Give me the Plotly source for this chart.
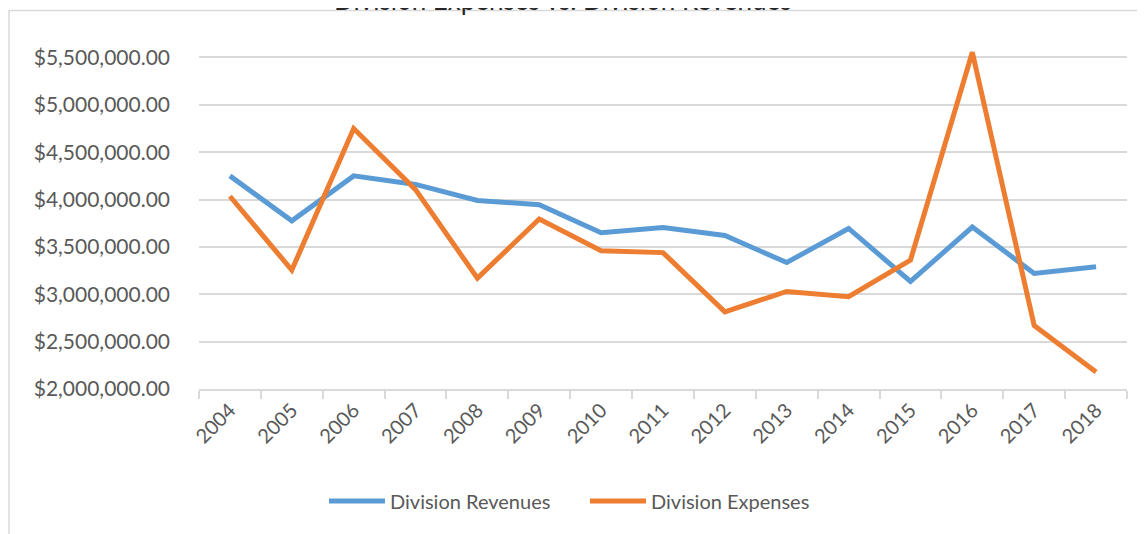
import plotly.graph_objects as go

years = [str(y) for y in range(2004, 2019)]
revenues = [4250000, 3775000, 4250000, 4160000, 3990000, 3945000, 3650000, 3705000,
            3620000, 3335000, 3695000, 3135000, 3710000, 3220000, 3290000]
expenses = [4035000, 3255000, 4750000, 4105000, 3170000, 3795000, 3460000, 3440000,
            2815000, 3030000, 2975000, 3360000, 5555000, 2670000, 2180000]
y_ticks = [2000000, 2500000, 3000000, 3500000, 4000000, 4500000, 5000000, 5500000]

# page body has an 8px margin, so figure coords = screenshot coords - 8
OFF = 8
W, H = 1145, 534
L, R, T, B = 199 - OFF, 26, 48 - OFF, 153
pw, ph = W - L - R, H - T - B

font_family = "Lato, 'Open Sans', sans-serif"
gray = "#595959"

fig = go.Figure()
fig.add_trace(go.Scatter(x=years, y=revenues, mode="lines", name="Division Revenues",
                         line=dict(color="#5B9BD5", width=5)))
fig.add_trace(go.Scatter(x=years, y=expenses, mode="lines", name="Division Expenses",
                         line=dict(color="#ED7D31", width=5)))

fig.update_layout(
    width=W, height=H,
    margin=dict(l=L, r=R, t=T, b=B, autoexpand=False),
    paper_bgcolor="white", plot_bgcolor="white",
    font=dict(family=font_family, size=20, color=gray),
    showlegend=True,
    legend=dict(orientation="h", x=(585 - OFF - L) / pw, xanchor="center",
                y=(H - B - (501 - OFF)) / ph, yanchor="middle",
                font=dict(size=20, color=gray), itemwidth=56, bgcolor="rgba(0,0,0,0)",
                entrywidth=190, entrywidthmode="pixels", tracegroupgap=0),
    xaxis=dict(type="category", range=[-0.5, 14.5], tickson="boundaries",
               showgrid=False, showline=True, linecolor="#d9d9d9", linewidth=1.5,
               ticks="outside", ticklen=8, tickcolor="#d9d9d9", tickwidth=1.5,
               tickangle=-45, tickfont=dict(size=20, color=gray), zeroline=False,
               automargin=False),
    yaxis=dict(range=[2000000, 5600000], tickvals=y_ticks, tickformat="$,.2f",
               showgrid=True, gridcolor="#d9d9d9", gridwidth=1.5,
               showline=False, zeroline=False, ticks="", ticklabelstandoff=28,
               tickfont=dict(size=21, color=gray), automargin=False),
)

# chart area border (extends past the right and bottom edges)
fig.add_shape(type="rect", xref="paper", yref="paper",
              x0=(1 - L) / pw, x1=(W + 20 - L) / pw,
              y0=(H - B - (H + 20)) / ph, y1=(H - B - (10.5 - OFF)) / ph,
              line=dict(color="#d9d9d9", width=1.5), fillcolor="rgba(0,0,0,0)", layer="below")

# title (partially cut off at top)
fig.add_annotation(text="Division Expenses vs. Division Revenues", xref="paper", yref="paper",
                   x=(563 - OFF - L) / pw, y=(H - B - (0 - OFF)) / ph,
                   xanchor="center", yanchor="middle",
                   showarrow=False, font=dict(family=font_family, size=26, color="#262626"))

fig.write_html("out.html")
